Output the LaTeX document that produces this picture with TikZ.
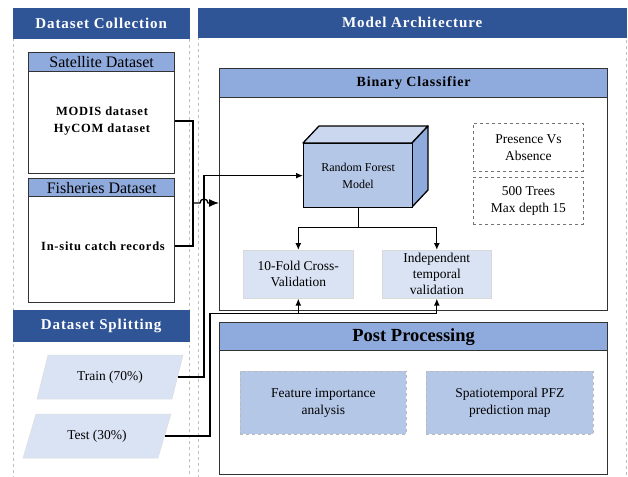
\documentclass[tikz,border=0pt]{standalone}
\usepackage{fontspec}
\setmainfont{Liberation Serif}
\newfontfamily\hdfont[LetterSpace=6]{Liberation Serif}
\usetikzlibrary{arrows.meta,calc}
\definecolor{dkblue}{HTML}{2F5597}
\definecolor{ltblue}{HTML}{8FAADC}
\definecolor{midblue}{HTML}{B4C7E7}
\definecolor{paleblue}{HTML}{DAE3F3}
\definecolor{cubetop}{HTML}{CAD7EE}
\definecolor{edgegray}{HTML}{333333}
\tikzset{
  dkhead/.style={fill=dkblue, draw=dkblue, text=white, font=\hdfont\bfseries\fontsize{15}{18}\selectfont, inner sep=0pt, anchor=north west},
  lhead/.style={fill=ltblue, draw=edgegray, line width=1.3pt, inner sep=0pt, anchor=north west, font=\fontsize{16}{18}\selectfont},
  obox/.style={draw=edgegray, fill=white, line width=1.3pt, inner sep=0pt, anchor=north west},
  panel/.style={draw=gray!50, dashed, line width=0.6pt},
  btxt/.style={font=\hdfont\bfseries\fontsize{12.5}{17}\selectfont, align=center},
  rtxt/.style={font=\fontsize{13.5}{16.5}\selectfont, align=center},
  dbox/.style={draw=gray!90!black, dashed, line width=0.9pt, inner sep=0pt, anchor=north west, font=\fontsize{13.5}{16.5}\selectfont, align=center},
  vbox/.style={fill=paleblue, draw=gray!30, line width=0.6pt, inner sep=0pt, anchor=north west, font=\fontsize{13.5}{16}\selectfont, align=center},
  pbox/.style={fill=midblue, draw=gray!55, dashed, line width=0.7pt, inner sep=0pt, anchor=north west, font=\fontsize{13.5}{16.5}\selectfont, align=center},
  para/.style={fill=paleblue, draw=gray!25, line width=0.5pt},
  conn/.style={draw=black, line width=1.3pt},
  tip/.style={-{Latex[length=7pt,width=6pt]}},
  bigtip/.style={-{Latex[length=10pt,width=8pt]}}
}
\begin{document}
\begin{tikzpicture}[x=1pt,y=-1pt]
\useasboundingbox (0,0) rectangle (628,476);
\fill[white] (0,0) rectangle (628,476);
% panels
\draw[panel] (13,38) rectangle (189,480);
\draw[panel] (198,37) rectangle (626,480);
\node[dkhead, minimum width=176, minimum height=30] (dc) at (13,8) {Dataset Collection};
\node[dkhead, minimum width=428, minimum height=29] (ma) at (198,8) {Model Architecture};
% satellite
\node[obox, minimum width=146, minimum height=121] (sat) at (28,52) {};
\node[lhead, minimum width=146, minimum height=19] (sath) at (28,52) {Satellite Dataset};
\node[btxt] (modis) at (102,121) {MODIS dataset\\HyCOM dataset};
% fisheries
\node[obox, minimum width=146, minimum height=124] (fish) at (28,178) {};
\node[lhead, minimum width=146, minimum height=18] (fishh) at (28,178) {Fisheries Dataset};
\node[btxt] (insitu) at (103,246) {In-situ catch records};
% splitting
\node[dkhead, minimum width=176, minimum height=31] (ds) at (13,310) {Dataset Splitting};
\draw[para] (48,355) -- (183,355) -- (172,399) -- (37,399) -- cycle;
\node[rtxt] (train) at (110,377) {Train (70\%)};
\coordinate (trainE) at (177.5,377);
\draw[para] (36,414) -- (171,414) -- (158,458) -- (23,458) -- cycle;
\node[rtxt] (test) at (97,436) {Test (30\%)};
\coordinate (testE) at (164.5,436);
% binary classifier
\node[obox, minimum width=388, minimum height=242] (bc) at (219,68) {};
\node[lhead, font=\hdfont\bfseries\fontsize{14}{16}\selectfont, minimum width=388, minimum height=29] (bch) at (219,68) {Binary Classifier};
% cube
\filldraw[fill=cubetop, draw=black, line width=1.3pt, line join=round] (303,143) -- (319,126) -- (428,126) -- (412,143) -- cycle;
\filldraw[fill=ltblue, draw=black, line width=1.3pt, line join=round] (412,143) -- (428,126) -- (428,190) -- (412,207) -- cycle;
\node[fill=midblue, draw=black, line width=1.3pt, inner sep=0pt, anchor=north west, minimum width=109, minimum height=64, font=\fontsize{12}{16.5}\selectfont, align=center] (rf) at (303,143) {Random Forest\\Model};
\node[dbox, minimum width=110, minimum height=48] (pres) at (473,123) {Presence Vs\\Absence};
\node[dbox, minimum width=110, minimum height=47] (trees) at (473,177) {500 Trees\\Max depth 15};
\node[vbox, minimum width=110, minimum height=48] (cv) at (243,250) {10-Fold Cross-\\Validation};
\node[vbox, minimum width=109, minimum height=48] (itv) at (382,250) {Independent\\temporal\\validation};
% post processing
\node[obox, minimum width=388, minimum height=152] (pp) at (219,322) {};
\node[lhead, font=\bfseries\fontsize{18.5}{20}\selectfont, minimum width=388, minimum height=28] (pph) at (219,322) {Post Processing};
\node[pbox, minimum width=166, minimum height=63] (fi) at (240,371) {Feature importance\\analysis};
\node[pbox, minimum width=167, minimum height=63] (pfz) at (426,371) {Spatiotemporal PFZ\\prediction map};
% connectors
\coordinate (j1) at (193,203);
\draw[conn] (sat.east |- modis.east) -| (j1);
\draw[conn] (fish.east |- insitu.east) -| (j1);
\draw[conn, bigtip] (j1) -- (200,203) arc (180:360:4) -- (bc.west |- j1);
\draw[conn, tip] (trainE) -- (204,377) |- (rf.west);
\draw[conn, tip] (testE) -- (210,436) |- ($(itv.south)+(0,15)$) -- (itv.south);
\draw[conn, tip] ($(cv.south)+(0,15)$) -- (cv.south);
\draw[conn] (rf.south) -- ++(0,19) coordinate (s1);
\draw[conn, tip] (s1) -| (cv.north);
\draw[conn, tip] (s1) -| (itv.north);
\end{tikzpicture}
\end{document}
